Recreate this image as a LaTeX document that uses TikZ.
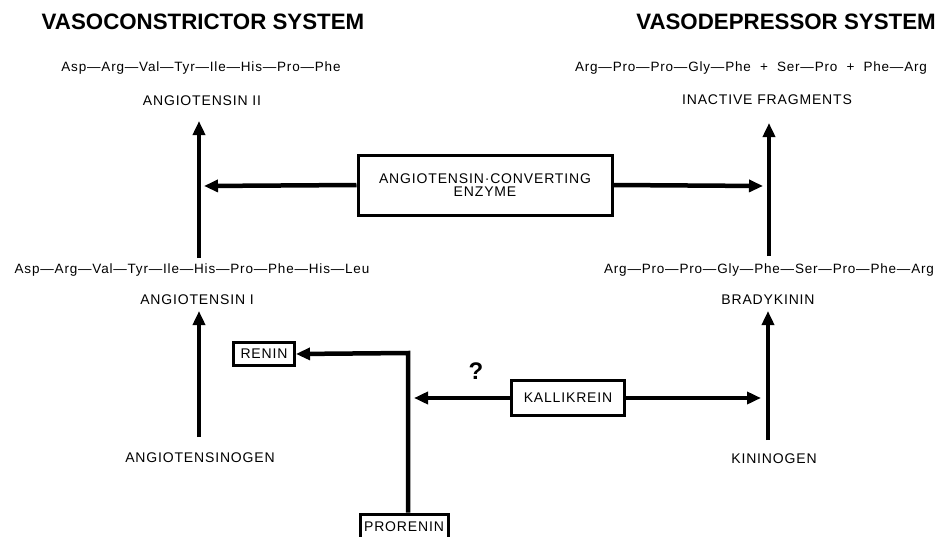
\documentclass[tikz,border=0pt]{standalone}
\usepackage{fontspec}
\setmainfont{Liberation Sans}
\newfontfamily\labfont[LetterSpace=6]{Liberation Sans}
\usetikzlibrary{arrows.meta}
\begin{document}
\begin{tikzpicture}[x=1pt,y=-1pt,
  title/.style={font=\fontsize{22.3}{24}\selectfont\bfseries, inner sep=0pt},
  lab/.style={font=\labfont\fontsize{14}{16}\selectfont, inner sep=0pt},
  pep/.style={font=\labfont\fontsize{13.5}{16}\selectfont, inner sep=0pt},
  boxed/.style={draw, line width=3pt, fill=white, font=\labfont\fontsize{14}{16}\selectfont, inner sep=0pt, align=center},
  flow/.style={line width=4.5pt, -{Triangle[length=14pt,width=12pt]}}]
\useasboundingbox (0,0) rectangle (951,536);
% titles
\node[title] (t1) at (203,22) {VASOCONSTRICTOR SYSTEM};
\node[title] (t2) at (786,22) {VASODEPRESSOR SYSTEM};
% left column
\node[pep] (a2p) at (201,68) {Asp—Arg—Val—Tyr—Ile—His—Pro—Phe};
\node[lab] (a2) at (202,101) {ANGIOTENSIN II};
\node[pep] (a1p) at (192,270) {Asp—Arg—Val—Tyr—Ile—His—Pro—Phe—His—Leu};
\node[lab] (a1) at (197,300) {ANGIOTENSIN I};
\node[lab] (ag) at (200,458) {ANGIOTENSINOGEN};
% right column
\node[pep] (ifp) at (751,68) {Arg—Pro—Pro—Gly—Phe\ \ +\ \ Ser—Pro\ \ +\ \ Phe—Arg};
\node[lab] (if) at (767,100) {INACTIVE FRAGMENTS};
\node[pep] (bkp) at (769,270) {Arg—Pro—Pro—Gly—Phe—Ser—Pro—Phe—Arg};
\node[lab] (bk) at (768,300) {BRADYKININ};
\node[lab] (kn) at (774,459) {KININOGEN};
% boxes
\node[boxed, minimum width=254pt, minimum height=60pt] (ace) at (485,185) {ANGIOTENSIN·CONVERTING\\[-3pt]ENZYME};
\node[boxed, minimum width=61pt, minimum height=23pt] (renin) at (264,354) {RENIN};
\node[boxed, minimum width=88pt, minimum height=26pt] (pro) at (404,527) {PRORENIN};
\node[boxed, minimum width=113pt, minimum height=35pt] (kal) at (568,398) {KALLIKREIN};
% coordinates
\coordinate (lcolTop) at (199,121);
\coordinate (lcolBot) at (199,258);
\coordinate (lcolTop2) at (199,311);
\coordinate (lcolBot2) at (199,437);
\coordinate (rcolTop) at (769,123);
\coordinate (rcolBot) at (769,256);
\coordinate (rcolTop2) at (768,311);
\coordinate (rcolBot2) at (768,440);
\coordinate (aceL) at (204,186);
\coordinate (aceR) at (763,186);
\coordinate (corner) at (408,353);
\coordinate (kalL) at (414,398);
\coordinate (kalR) at (761,398);
% arrows
\draw[flow] (lcolBot) -- (lcolTop);
\draw[flow] (lcolBot2) -- (lcolTop2);
\draw[flow] (rcolBot) -- (rcolTop);
\draw[flow] (rcolBot2) -- (rcolTop2);
\draw[flow] (ace.west) -- (aceL);
\draw[flow] (ace.east) -- (aceR);
\draw[flow] (pro.north -| corner) -- (corner) -- (renin.east);
\draw[flow] (kal.west) -- (kalL);
\draw[flow] (kal.east) -- (kalR);
\node[font=\fontsize{24}{26}\selectfont\bfseries\rmfamily, inner sep=0pt] (q) at (476,371) {?};
\end{tikzpicture}
\end{document}
